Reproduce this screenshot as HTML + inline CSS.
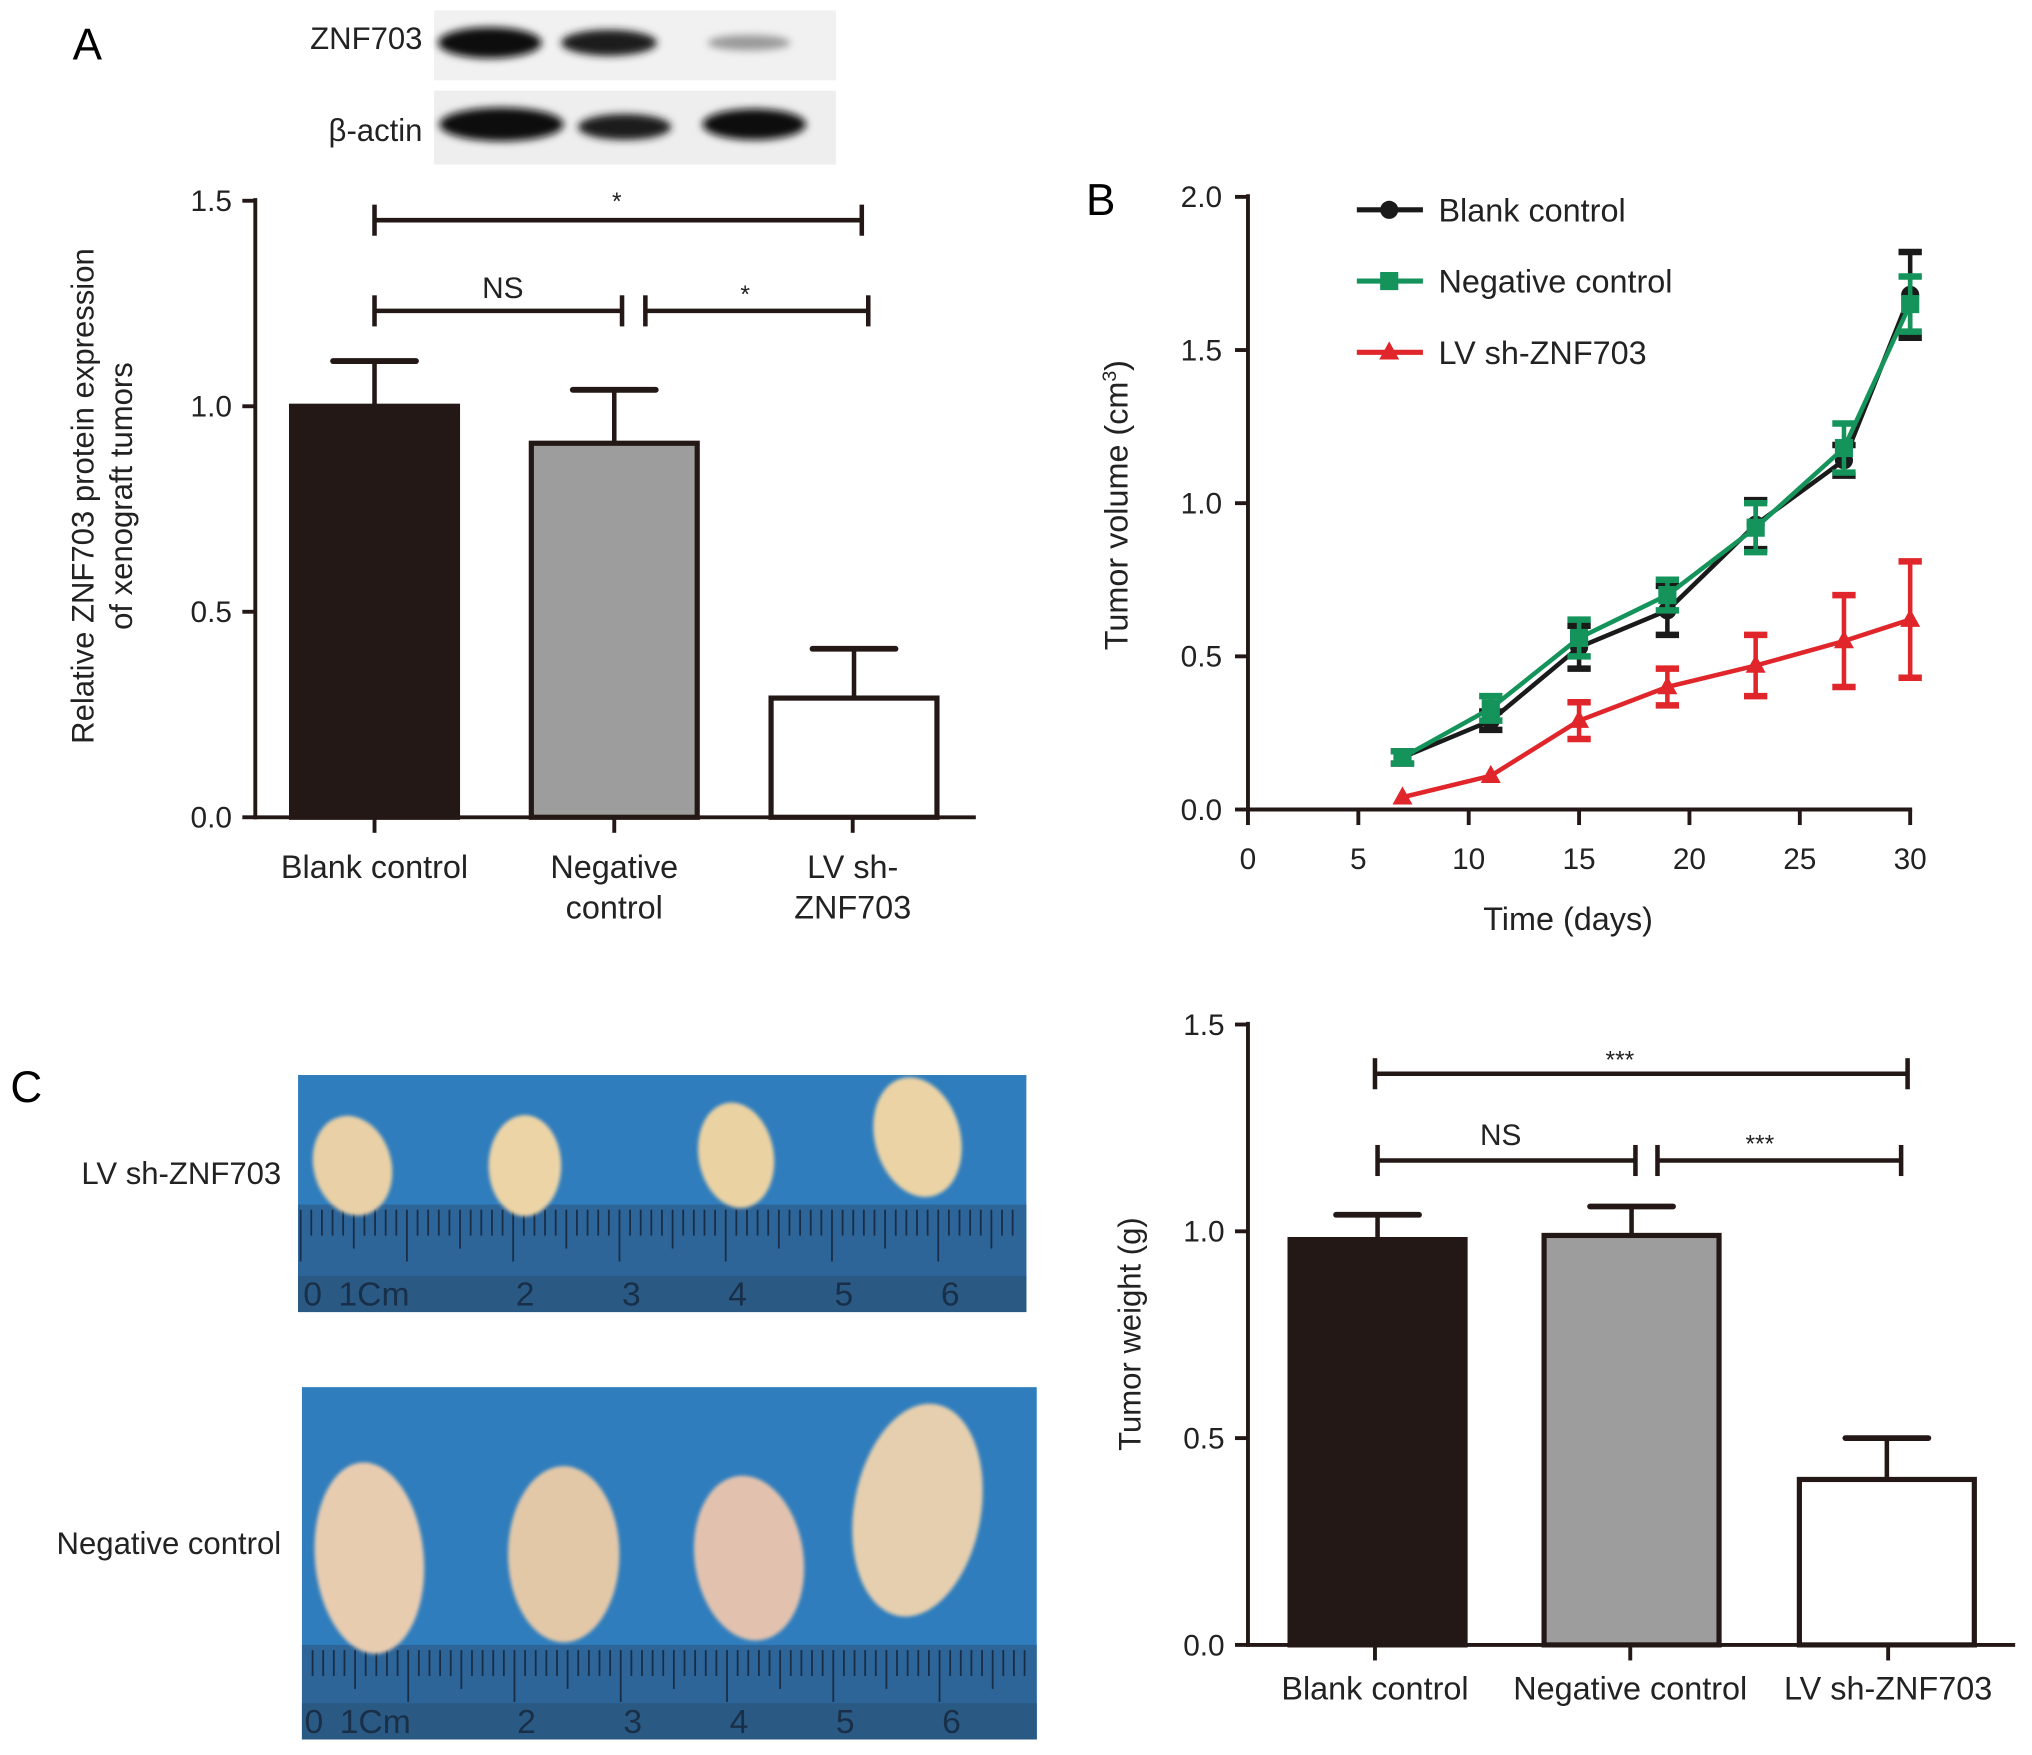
<!DOCTYPE html>
<html><head><meta charset="utf-8"><style>
html,body{margin:0;padding:0;background:#fff;}
svg{display:block;font-family:"Liberation Sans",Arial,sans-serif;}
</style></head><body>
<svg id="fig" width="2032" height="1755" viewBox="0 0 1568 1355" preserveAspectRatio="none" xmlns="http://www.w3.org/2000/svg">
<defs>
<filter id="blur2"><feGaussianBlur stdDeviation="3"/></filter>
<filter id="blur1"><feGaussianBlur stdDeviation="1.5"/></filter>
</defs>
<text x="56" y="46" font-size="34">A</text>
<g>
<rect x="335" y="8" width="310" height="54" fill="#f1f1f1"/>
<rect x="335" y="70" width="310" height="57" fill="#eeeeee"/>
<g filter="url(#blur2)">
<ellipse cx="378" cy="33" rx="40" ry="12" fill="#111"/>
<ellipse cx="470" cy="33" rx="37" ry="10" fill="#1a1a1a"/>
<ellipse cx="578" cy="33" rx="32" ry="6" fill="#9a9a9a"/>
<ellipse cx="387" cy="96" rx="48" ry="13" fill="#0d0d0d"/>
<ellipse cx="482" cy="98" rx="36" ry="10" fill="#1a1a1a"/>
<ellipse cx="582" cy="96" rx="40" ry="12" fill="#0f0f0f"/>
</g>
<text x="326" y="38" font-size="24" text-anchor="end" fill="#222">ZNF703</text>
<text x="326" y="109" font-size="24" text-anchor="end" fill="#222">β-actin</text>
</g>
<g id="chartA"></g>
<g id="chartB"></g>
<g id="chartD"></g>
<text x="8" y="851" font-size="34">C</text>
<text x="217" y="914" font-size="24" text-anchor="end" fill="#222">LV sh-ZNF703</text>
<text x="217" y="1200" font-size="24" text-anchor="end" fill="#222">Negative control</text>
<g id="photos"></g>
</svg>
<script>
const catsA = ["Blank control", "Negative control", "LV sh-ZNF703"];
const valsA = [1.0, 0.91, 0.29];
const errA = [0.11, 0.13, 0.12];
const ticksA = [0.0, 0.5, 1.0, 1.5];

const daysB = [7, 11, 15, 19, 23, 27, 30];
const blankB = [0.17, 0.29, 0.53, 0.65, 0.93, 1.14, 1.68];
const blankErrB = [0.02, 0.03, 0.07, 0.08, 0.08, 0.05, 0.14];
const negB = [0.17, 0.33, 0.56, 0.70, 0.92, 1.18, 1.65];
const negErrB = [0.02, 0.04, 0.06, 0.05, 0.08, 0.08, 0.09];
const lvB = [0.04, 0.11, 0.29, 0.40, 0.47, 0.55, 0.62];
const lvErrB = [0.0, 0.0, 0.06, 0.06, 0.10, 0.15, 0.19];
const xTicksB = [0, 5, 10, 15, 20, 25, 30];
const yTicksB = [0.0, 0.5, 1.0, 1.5, 2.0];
const legendB = ["Blank control", "Negative control", "LV sh-ZNF703"];

const catsD = ["Blank control", "Negative control", "LV sh-ZNF703"];
const valsD = [0.98, 0.99, 0.40];
const errD = [0.06, 0.07, 0.10];
const ticksD = [0.0, 0.5, 1.0, 1.5];

const NS = "http://www.w3.org/2000/svg";
function mk(parent, tag, attrs, text) {
  const e = document.createElementNS(NS, tag);
  for (const k in attrs) e.setAttribute(k, attrs[k]);
  if (text !== undefined) e.textContent = text;
  parent.appendChild(e);
  return e;
}
const INK = "#231815";

function barChart(g, cfg, cats, vals, errs, ticks) {
  const y = v => cfg.y0 - (v - 0) / (ticks[ticks.length-1]) * (cfg.y0 - cfg.yTop);
  const axY = mk(g, "line", {x1: cfg.ax, y1: y(ticks[ticks.length-1]) - 2, x2: cfg.ax, y2: cfg.y0 + 1.5, stroke: INK, "stroke-width": 3});
  
  
  const axX = mk(g, "line", {x1: cfg.ax - 1.5, y1: cfg.y0, x2: cfg.xEnd, y2: cfg.y0, stroke: INK, "stroke-width": 3});
  
  
  ticks.forEach(t => {
    const tk = mk(g, "line", {x1: cfg.ax - 10, y1: y(t), x2: cfg.ax, y2: y(t), stroke: INK, "stroke-width": 3});
    
    
    const tl = mk(g, "text", {x: cfg.ax - 18, y: y(t) + 8, "font-size": 23, "text-anchor": "end", fill: "#222"}, t.toFixed(1));
    
    
  });
  const fills = ["#231815", "#9d9d9d", "#ffffff"];
  cats.forEach((c, i) => {
    const cx = cfg.cx[i];
    const top = y(vals[i]);
    const et = y(vals[i] + errs[i]);
    const el = mk(g, "line", {x1: cx, y1: et, x2: cx, y2: top, stroke: INK, "stroke-width": 3.5});
    
    
    const ec = mk(g, "line", {x1: cx - 32, y1: et, x2: cx + 32, y2: et, stroke: INK, "stroke-width": 4.5, "stroke-linecap": "round"});
    
    
    const b = mk(g, "rect", {x: cx - cfg.bw/2, y: top, width: cfg.bw, height: cfg.y0 - top, fill: fills[i], stroke: INK, "stroke-width": 4});
    
    
    const tk = mk(g, "line", {x1: cfg.tx[i], y1: cfg.y0, x2: cfg.tx[i], y2: cfg.y0 + 12, stroke: INK, "stroke-width": 3});
    
    
    const lines = cfg.wrap ? cfg.wrap[i] : [c];
    lines.forEach((ln, j) => {
      const t = mk(g, "text", {x: cfg.tx[i], y: cfg.labY + j * 31, "font-size": 25, "text-anchor": "middle", fill: "#222"}, ln);
      
      
    });
  });
  cfg.sig.forEach(s => {
    const sg = mk(g, "g", {});
    
    
    mk(sg, "line", {x1: s[0], y1: s[2], x2: s[1], y2: s[2], stroke: INK, "stroke-width": 3.5});
    mk(sg, "line", {x1: s[0], y1: s[2] - 12, x2: s[0], y2: s[2] + 12, stroke: INK, "stroke-width": 3.5});
    mk(sg, "line", {x1: s[1], y1: s[2] - 12, x2: s[1], y2: s[2] + 12, stroke: INK, "stroke-width": 3.5});
    mk(sg, "text", {x: s[3], y: s[4], "font-size": s[5] === "NS" ? 23 : 19, "text-anchor": "middle", fill: "#222"}, s[5]);
  });
}

const gA = document.getElementById("chartA");
barChart(gA, {ax: 197, y0: 631, yTop: 155, xEnd: 753, bw: 128, cx: [289, 474, 659], tx: [289, 474, 658], labY: 678,
  wrap: [["Blank control"], ["Negative", "control"], ["LV sh-", "ZNF703"]],
  sig: [[289, 665, 170, 476, 162, "*"], [289, 480, 240, 388, 230, "NS"], [498, 670, 240, 575, 234, "*"]]
}, catsA, valsA, errA, ticksA);
const tA = mk(gA, "text", {transform: "translate(72,383) rotate(-90)", "font-size": 24, "text-anchor": "middle", fill: "#222"}, "Relative ZNF703 protein expression");


mk(gA, "text", {transform: "translate(102,383) rotate(-90)", "font-size": 24, "text-anchor": "middle", fill: "#222"}, "of xenograft tumors");

const gD = document.getElementById("chartD");
barChart(gD, {ax: 963, y0: 1270, yTop: 791, xEnd: 1555, bw: 135, cx: [1063, 1259, 1456], tx: [1061, 1258, 1457], labY: 1312,
  sig: [[1061, 1472, 829, 1250, 825, "***"], [1063, 1262, 896, 1158, 884, "NS"], [1279, 1467, 896, 1358, 890, "***"]]
}, catsD, valsD, errD, ticksD);
const tD = mk(gD, "text", {transform: "translate(880,1030) rotate(-90)", "font-size": 24, "text-anchor": "middle", fill: "#222"}, "Tumor weight (g)");



const gB = document.getElementById("chartB");
const ax = 963, y0 = 625, yTop = 152, xR = 1474;
const xs = d => ax + d / 30 * (xR - ax);
const ys = v => y0 - v / 2.0 * (y0 - yTop);
const lb = mk(gB, "text", {x: 838, y: 166, "font-size": 34}, "B");


const bY = mk(gB, "line", {x1: ax, y1: yTop - 2, x2: ax, y2: y0 + 1.5, stroke: INK, "stroke-width": 3});


const bX = mk(gB, "line", {x1: ax - 1.5, y1: y0, x2: xR + 1.5, y2: y0, stroke: INK, "stroke-width": 3});


yTicksB.forEach(t => {
  mk(gB, "line", {x1: ax - 10, y1: ys(t), x2: ax, y2: ys(t), stroke: INK, "stroke-width": 3});
  const tl = mk(gB, "text", {x: ax - 20, y: ys(t) + 8, "font-size": 23, "text-anchor": "end", fill: "#222"}, t.toFixed(1));
  
  
});
xTicksB.forEach(t => {
  mk(gB, "line", {x1: xs(t), y1: y0, x2: xs(t), y2: y0 + 12, stroke: INK, "stroke-width": 3});
  const tl = mk(gB, "text", {x: xs(t), y: y0 + 46, "font-size": 23, "text-anchor": "middle", fill: "#222"}, String(t));
  
  
});
const xt = mk(gB, "text", {x: 1210, y: 718, "font-size": 25, "text-anchor": "middle", fill: "#222"}, "Time (days)");


const yt = mk(gB, "text", {transform: "translate(870,390) rotate(-90)", "font-size": 25, "text-anchor": "middle", fill: "#222"});


yt.innerHTML = 'Tumor volume (cm<tspan dy="-9" font-size="15">3</tspan><tspan dy="9">)</tspan>';

const series = [
  {name: "blank", vals: blankB, errs: blankErrB, color: "#1a1a1a", marker: "circle"},
  {name: "lv", vals: lvB, errs: lvErrB, color: "#e0262a", marker: "tri"},
  {name: "negative", vals: negB, errs: negErrB, color: "#14935a", marker: "square"}
];
function marker(g, type, x, y, c, s) {
  if (type === "circle") return mk(g, "circle", {cx: x, cy: y, r: s, fill: c});
  if (type === "square") return mk(g, "rect", {x: x - s, y: y - s, width: 2*s, height: 2*s, fill: c});
  return mk(g, "polygon", {points: `${x},${y - s*1.2} ${x - s*1.1},${y + s*0.8} ${x + s*1.1},${y + s*0.8}`, fill: c});
}
series.forEach(s => {
  const sg = mk(gB, "g", {});
  
  
  const pts = daysB.map((d, i) => xs(d) + "," + ys(s.vals[i])).join(" ");
  mk(sg, "polyline", {points: pts, fill: "none", stroke: s.color, "stroke-width": 3.5});
  daysB.forEach((d, i) => {
    const x = xs(d), v = s.vals[i], e = s.errs[i];
    if (e > 0) {
      const eg = mk(sg, "g", {stroke: s.color, "stroke-width": 3.5});
      
      
      mk(eg, "line", {x1: x, y1: ys(v + e), x2: x, y2: ys(v - e)});
      mk(eg, "line", {x1: x - 9, y1: ys(v + e), x2: x + 9, y2: ys(v + e), "stroke-width": 5});
      mk(eg, "line", {x1: x - 9, y1: ys(v - e), x2: x + 9, y2: ys(v - e), "stroke-width": 5});
    }
    const m = marker(sg, s.marker, x, ys(v), s.color, 7);
    
    
  });
});
const legTypes = [["circle", "#1a1a1a"], ["square", "#14935a"], ["tri", "#e0262a"]];
legendB.forEach((l, i) => {
  const y = 162 + i * 55;
  const lg = mk(gB, "g", {});
  
  
  mk(lg, "line", {x1: 1047, y1: y, x2: 1098, y2: y, stroke: legTypes[i][1], "stroke-width": 4});
  marker(lg, legTypes[i][0], 1072, y, legTypes[i][1], 7);
  mk(lg, "text", {x: 1110, y: y + 9, "font-size": 25, fill: "#222"}, l);
});

const ph = document.getElementById("photos");
function photo(x, y, w, h, rulerY, numX, numY, step, blobs) {
  const g = mk(ph, "g", {});
  
  
  mk(g, "rect", {x, y, width: w, height: h, fill: "#2f7dbd"});
  mk(g, "rect", {x, y: rulerY, width: w, height: y + h - rulerY, fill: "#2d6599"});
  mk(g, "rect", {x, y: y + h - 28, width: w, height: 28, fill: "#2a5a84"});
  const tickStep = step / 10;
  for (let i = 0; numX - 2 + i * tickStep < x + w - 3; i++) {
    const tx = numX - 2 + i * tickStep;
    if (tx < x + 2) continue;
    const len = i % 10 === 0 ? 40 : (i % 5 === 0 ? 30 : 20);
    mk(g, "line", {x1: tx, y1: rulerY + 4, x2: tx, y2: rulerY + 4 + len, stroke: "#15253a", "stroke-width": 1.4, opacity: 0.85});
  }
  ["0", "1Cm", "2", "3", "4", "5", "6"].forEach((t, i) => {
    mk(g, "text", {x: numX + i * step, y: numY, "font-size": 26, "text-anchor": i === 1 ? "end" : "start", fill: "#15253a", opacity: 0.8}, i === 1 ? "1Cm" : t);
  });
  blobs.forEach(b => {
    mk(g, "ellipse", {cx: b[0], cy: b[1], rx: b[2], ry: b[3], fill: b[4], filter: "url(#blur1)", transform: `rotate(${b[5]} ${b[0]} ${b[1]})`});
  });
}
photo(230, 830, 562, 183, 930, 234, 1008, 82, [
  [272, 900, 30, 39, "#e9d0a6", -15], [405, 900, 28, 39, "#ecd4a6", 0],
  [568, 892, 29, 41, "#ebd2a3", -10], [708, 878, 33, 47, "#ebd3a6", -15]
]);
photo(233, 1071, 567, 272, 1270, 235, 1338, 82, [
  [285, 1203, 42, 74, "#e8ccb0", -5], [435, 1200, 43, 68, "#e3c8a8", 0],
  [578, 1203, 42, 64, "#e2c2ae", -8], [708, 1166, 49, 83, "#e6cfae", 10]
]);
</script>
</body></html>
